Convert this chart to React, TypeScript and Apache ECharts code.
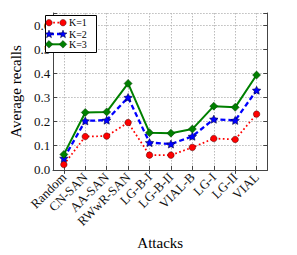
import React, { useEffect, useRef } from "react";
import * as echarts from "echarts";

const categories = ["Random", "CN-SAN", "AA-SAN", "RWwR-SAN", "LG-B-I", "LG-B-II", "VIAL-B", "LG-I", "LG-II", "VIAL"];
const k1 = [0.022, 0.138, 0.14, 0.196, 0.061, 0.061, 0.093, 0.13, 0.126, 0.231];
const k2 = [0.048, 0.203, 0.206, 0.3, 0.113, 0.107, 0.139, 0.21, 0.205, 0.33];
const k3 = [0.064, 0.238, 0.24, 0.358, 0.154, 0.152, 0.169, 0.264, 0.259, 0.393];
const seriesNames = ["K=1", "K=2", "K=3"];
const yTickMax = 0.65;

const FONT = "Liberation Serif";
const RED = "#ff0000";
const BLUE = "#0000ff";
const GREEN = "#008000";
const STAR = "path://M0,-10 L2.94,-4.05 L9.51,-3.09 L4.76,1.55 L5.88,8.09 L0,5 L-5.88,8.09 L-4.76,1.55 L-9.51,-3.09 L-2.94,-4.05 Z";

function starPoints(cx: number, cy: number, ro: number, ri: number): number[][] {
  const pts: number[][] = [];
  for (let i = 0; i < 10; i++) {
    const r = i % 2 === 0 ? ro : ri;
    const a = -Math.PI / 2 + (i * Math.PI) / 5;
    pts.push([cx + r * Math.cos(a), cy + r * Math.sin(a)]);
  }
  return pts;
}

function legendGraphics() {
  const x0 = 45, y0 = 15, w = 51, h = 37;
  const rows = [22.7, 34, 44.3];
  const lx1 = 49, lx2 = 63;
  const els: any[] = [
    { type: "rect", shape: { x: x0 + 0.5, y: y0 + 0.5, width: w, height: h }, style: { fill: "#fff", stroke: "#000", lineWidth: 1 }, z: 100 },
  ];
  els.push({ type: "line", shape: { x1: lx1, y1: rows[0], x2: lx2, y2: rows[0] }, style: { stroke: RED, lineWidth: 1.7, lineDash: [1.7, 2.5] }, z: 101 });
  [lx1, lx2].forEach((x) => els.push({ type: "circle", shape: { cx: x, cy: rows[0], r: 3.2 }, style: { fill: RED, stroke: "#400", lineWidth: 0.5 }, z: 102 }));
  els.push({ type: "line", shape: { x1: lx1, y1: rows[1], x2: lx2, y2: rows[1] }, style: { stroke: BLUE, lineWidth: 2.3, lineDash: [5, 3] }, z: 101 });
  [lx1, lx2].forEach((x) => els.push({ type: "polygon", shape: { points: starPoints(x, rows[1] + 0.3, 4.2, 1.8) }, style: { fill: BLUE, stroke: "#002", lineWidth: 0.5 }, z: 102 }));
  els.push({ type: "line", shape: { x1: lx1, y1: rows[2], x2: lx2, y2: rows[2] }, style: { stroke: GREEN, lineWidth: 2 }, z: 101 });
  [lx1, lx2].forEach((x) => els.push({ type: "polygon", shape: { points: [[x, rows[2] - 3.8], [x + 3.8, rows[2]], [x, rows[2] + 3.8], [x - 3.8, rows[2]]] }, style: { fill: GREEN, stroke: "#030", lineWidth: 0.5 }, z: 102 }));
  seriesNames.forEach((n, i) => {
    els.push({ type: "text", x: 69, y: rows[i], style: { text: n, fontFamily: FONT, fontSize: 10, fill: "#000", verticalAlign: "middle", align: "left" }, z: 103 });
  });
  return els;
}

export default function App() {
  const ref = useRef<HTMLDivElement>(null);
  useEffect(() => {
    if (!ref.current) return;
    const chart = echarts.init(ref.current, null, { renderer: "svg" });
    const axisLineStyle = { color: "#444", width: 1 };
    const gridLine = { show: true, lineStyle: { color: "#bbb", type: [1.5, 1.5] as any, width: 1 } };
    const yCommon = {
      type: "value" as const,
      min: 0,
      max: yTickMax,
      interval: 0.1,
    };
    chart.setOption({
      animation: false,
      backgroundColor: "#fff",
      grid: { left: 41.7, right: 29.7, top: 13, bottom: 74.2, containLabel: false },
      xAxis: [
        {
          type: "category",
          data: categories,
          boundaryGap: true,
          name: "Attacks",
          nameLocation: "middle",
          nameGap: 58,
          nameTextStyle: { fontFamily: FONT, fontSize: 15, color: "#000" },
          axisLine: { show: true, lineStyle: axisLineStyle },
          axisTick: { show: true, inside: true, length: 4, alignWithLabel: true, lineStyle: { color: "#444" } },
          axisLabel: { rotate: 45, fontFamily: FONT, fontSize: 13, color: "#111", margin: 5, interval: 0 },
          splitLine: { ...gridLine, alignWithLabel: true, interval: 0 },
        },
        {
          type: "category",
          data: categories,
          boundaryGap: true,
          position: "top",
          axisLine: { show: true, lineStyle: axisLineStyle },
          axisTick: { show: true, inside: true, length: 4, alignWithLabel: true, lineStyle: { color: "#444" } },
          axisLabel: { show: false },
          splitLine: { show: false },
        },
      ],
      yAxis: [
        {
          ...yCommon,
          name: "Average recalls",
          nameLocation: "middle",
          nameGap: 21,
          nameTextStyle: { fontFamily: FONT, fontSize: 15, color: "#000" },
          axisLine: { show: true, lineStyle: axisLineStyle },
          axisTick: { show: true, inside: true, length: 4, lineStyle: { color: "#444" } },
          axisLabel: {
            fontFamily: FONT,
            fontSize: 13,
            color: "#111",
            margin: 3,
            formatter: (v: number) => (Math.abs(v - yTickMax) < 1e-6 ? "" : v.toFixed(1)),
          },
          splitLine: gridLine,
        },
        {
          ...yCommon,
          position: "right",
          axisLine: { show: true, lineStyle: axisLineStyle },
          axisTick: { show: true, inside: true, length: 4, lineStyle: { color: "#444" } },
          axisLabel: { show: false },
          splitLine: { show: false },
        },
      ],
      series: [
        {
          name: seriesNames[0],
          type: "line",
          data: k1,
          symbol: "circle",
          symbolSize: 6.5,
          itemStyle: { color: RED, borderColor: "#400", borderWidth: 0.5 },
          lineStyle: { color: RED, width: 1.7, type: [1.7, 2.5] as any },
          z: 3,
        },
        {
          name: seriesNames[1],
          type: "line",
          data: k2,
          symbol: STAR,
          symbolKeepAspect: true,
          symbolSize: 8.5,
          itemStyle: { color: BLUE, borderColor: "#002", borderWidth: 0.5 },
          lineStyle: { color: BLUE, width: 2.3, type: [5, 3] as any },
          z: 4,
        },
        {
          name: seriesNames[2],
          type: "line",
          data: k3,
          symbol: "diamond",
          symbolSize: [8, 8],
          itemStyle: { color: GREEN, borderColor: "#030", borderWidth: 0.5 },
          lineStyle: { color: GREEN, width: 2 },
          z: 5,
        },
      ],
      graphic: legendGraphics(),
    });
    return () => chart.dispose();
  }, []);
  return <div ref={ref} style={{ position: "fixed", left: 0, top: 0, width: 297, height: 255 }} />;
}
